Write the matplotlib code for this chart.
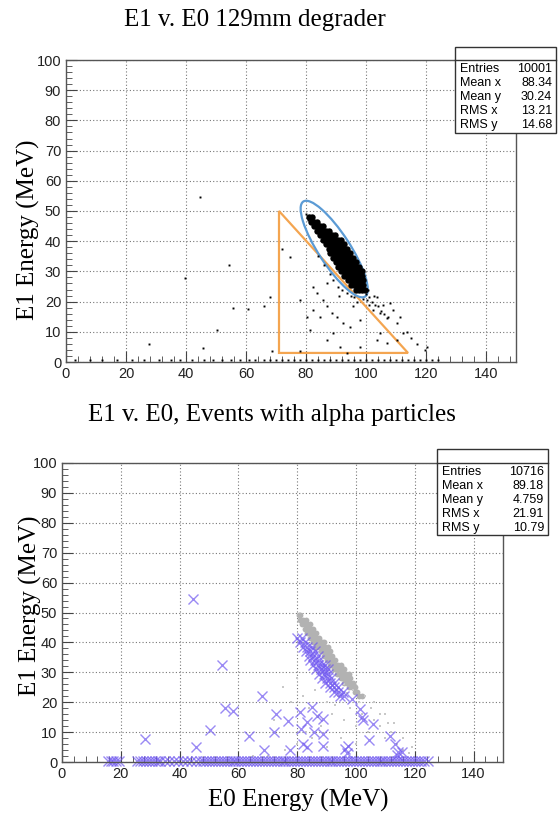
import matplotlib
matplotlib.use("Agg")
import matplotlib.pyplot as plt
from matplotlib.patches import Ellipse, Polygon, Rectangle
from matplotlib.ticker import MultipleLocator

# ---------------- data ----------------
# top panel: dense band, one entry per E1 row -> E0 values
top_band = [
    (48.0, [81, 82]),
    (46.5, [81.5, 82.5, 83.5]),
    (45.0, [82.5, 83.5, 84.5, 85.5]),
    (43.5, [83.5, 84.5, 85.5, 86.5, 87.5]),
    (42.0, [84.5, 85.5, 86.5, 87.5, 88.5, 89.5]),
    (40.5, [85.5, 86.5, 87.5, 88.5, 89.5, 90.5, 91.5]),
    (39.0, [86.5, 87.5, 88.5, 89.5, 90.5, 91.5, 92.5]),
    (37.5, [87.5, 88.5, 89.5, 90.5, 91.5, 92.5, 93.5]),
    (36.0, [88, 89, 90, 91, 92, 93, 94, 94.5]),
    (34.5, [89, 90, 91, 92, 93, 94, 95, 95.5]),
    (33.0, [90, 91, 92, 93, 94, 95, 96, 96.5]),
    (31.5, [90.5, 91.5, 92.5, 93.5, 94.5, 95.5, 96.5, 97.5]),
    (30.0, [91.5, 92.5, 93.5, 94.5, 95.5, 96.5, 97.5, 98.5]),
    (28.5, [92.5, 93.5, 94.5, 95.5, 96.5, 97.5, 98.5]),
    (27.0, [94, 95, 96, 97, 98, 99]),
    (25.5, [95, 96, 97, 98, 99]),
    (24.0, [96.5, 97.5, 98.5, 99.5]),
]
top_scatter_x = [44.5, 54.4, 39.7, 55.5, 60.5, 66, 68, 27.5, 50.2, 45.8, 68.6, 71.9, 74.7, 78,
                 82.4, 83.6, 85.8, 86.9, 88.6, 90.2, 82.4, 84.7, 89.1, 92.4, 94.7, 98, 102.4,
                 104.7, 107.4, 110.2, 112.4, 113.6, 120.2, 119.7, 91.3, 93.6, 98, 103.6, 106.9,
                 78, 80.2, 81.3, 86.9, 93.6, 95.8, 100.2, 103.6, 108, 109.1, 111.3, 104.7, 110.2,
                 101, 102, 103, 104, 105, 106, 107, 100, 99, 101, 80, 80.5, 89, 90.5, 87, 91,
                 115, 117, 84, 86, 88, 95, 97, 100.5, 102.5, 105.5, 96, 92]
top_scatter_y = [54.6, 32.2, 27.8, 18.0, 17.4, 18.5, 21.5, 5.8, 10.6, 4.5, 3.5, 37.5, 34.8, 3.5,
                 24.9, 22.8, 20.5, 18.4, 16.1, 15.0, 17.2, 15.0, 9.5, 12.8, 11.7, 13.9, 17.2,
                 16.1, 15.0, 12.8, 9.5, 10.0, 5.1, 4.0, 5.1, 2.9, 5.1, 7.3, 6.2,
                 20.5, 15.0, 10.6, 7.3, 22.8, 18.4, 20.5, 21.6, 19.4, 17.2, 15.0, 9.5, 7.3,
                 21.5, 20, 19, 18.5, 17, 16, 14.5, 22.5, 21, 19, 49, 47, 27, 25, 26, 22,
                 8, 6, 35, 32, 29, 22, 20, 24, 22, 19, 21.5, 24]
top_floor_x = [3, 8, 12, 17, 22, 26, 31, 35, 38, 42, 46, 49, 52, 55, 58, 61, 63, 66, 68, 70, 72,
               74, 76, 78, 80, 82, 84, 86, 88, 90, 92, 94, 96, 98, 100, 102, 104, 106, 108, 110,
               112, 114, 116, 118, 120, 122, 124]
cut_triangle = [(71, 50), (71, 3), (114, 3)]
top_stats = [("Entries", "10001"), ("Mean x", "88.34"), ("Mean y", "30.24"),
             ("RMS x", "13.21"), ("RMS y", "14.68")]

# bottom panel: gray band (all events), purple crosses (alpha events)
gray_band = [
    (49.0, [80.5, 81]), (47.5, [81, 82, 83]), (46.0, [81.5, 82.5, 83.5, 84.5]),
    (44.5, [82.5, 83.5, 84.5, 85.5]), (43.0, [83.5, 84.5, 85.5, 86.5]),
    (41.5, [84.5, 85.5, 86.5, 87.5]), (40.0, [85.5, 86.5, 87.5, 88.5, 89]),
    (38.5, [86.5, 87.5, 88.5, 89.5, 90.5]), (37.0, [88, 89, 90, 91]),
    (35.5, [89, 90, 91, 92]), (34.0, [90, 91, 92, 93]), (32.5, [91, 92, 93, 94, 95]),
    (31.0, [92.5, 93.5, 94.5, 95.5, 96]), (29.5, [93.5, 94.5, 95.5, 96.5, 97.5]),
    (28.0, [95, 96, 97, 98]), (26.5, [96, 97, 98, 99]), (25.0, [97.5, 98.5, 99.5]),
    (23.5, [99.5, 100.5]), (22.0, [101, 102]),
]
gray_scatter_x = [72, 75, 78, 80, 82, 84, 86, 88, 90, 92, 94, 96, 98, 100, 102, 104, 106, 108,
                  110, 112, 114, 116, 118, 100, 95, 90, 85, 80, 76, 70, 65, 60, 106, 103, 99, 96,
                  93, 87, 83, 110, 113, 116, 119, 105, 108, 111, 101, 97]
gray_scatter_y = [14, 25, 20, 28, 22, 18, 24, 12, 20, 16, 22, 14, 18, 12, 16, 10, 14, 12,
                  8, 10, 6, 4, 3, 6, 8, 5, 8, 6, 4, 2, 2, 1.5, 20, 22, 24, 26,
                  19, 15, 10, 16, 13, 8, 5, 18, 16, 13, 20, 23]
alpha_band = [
    (41.5, [80, 81.5]), (40.0, [81, 82.5]), (38.5, [82, 83.5, 85]), (37.0, [83, 84.5, 86]),
    (35.5, [84, 85.5, 87]), (34.0, [84.5, 86, 87.5]), (32.5, [85.5, 87, 88.5, 89.5]),
    (31.0, [86.5, 88, 89.5, 90.5]), (29.5, [87.5, 89, 90.5]), (28.0, [88.5, 90, 91.5]),
    (26.5, [89.5, 91, 92.5]), (25.0, [91, 92.5, 94]), (23.5, [92.5, 94, 95.5]),
    (22.0, [94.5, 96]),
]
alpha_x = [44.5, 54.5, 28.2, 50.5, 45.6, 55.4, 58.2, 63.7, 68.0, 68.6, 72.8, 72.0, 77.0, 77.6,
           80.8, 81.4, 81.9, 83.5, 83.5, 85.0, 85.6, 86.7, 88.9, 88.9, 88.9, 96.3, 96.9, 97.4,
           101.4, 102.0, 102.5, 105.9, 104.4, 111.5, 113.2, 114.4, 113.8, 115.5, 98.5]
alpha_y = [54.6, 32.3, 7.8, 10.8, 5.0, 18.2, 17.1, 8.8, 22.1, 3.9, 16.0, 10.0, 13.7, 3.9,
           16.7, 11.2, 6.1, 5.0, 13.4, 18.4, 10.0, 15.3, 9.5, 5.3, 14.3, 4.5, 3.0, 5.3,
           17.8, 15.0, 14.0, 12.8, 7.5, 8.6, 6.1, 3.3, 2.5, 3.2, 21.2]
alpha_floor_x = [15.5, 16.5, 17.5, 18.5, 19.5, 25.5, 26.5, 27.5, 28.5, 29.5, 30.5, 31.5, 32.5,
                 33.5, 35, 36.5, 38, 39.5, 41, 42.5, 44, 45.5, 47, 48, 49, 50, 51, 52, 53, 54,
                 55, 56, 57, 58, 59, 60, 61, 62, 63, 64, 65, 66, 67, 68, 69, 70, 71, 72, 73, 74,
                 75, 76, 77, 78, 79, 80, 81, 82, 83, 84, 85, 86, 87, 88, 89, 90, 91, 92, 93, 94,
                 95, 96, 97, 98, 99, 100, 101, 102, 103, 104, 105, 106, 107, 108, 109, 110, 111,
                 112, 113, 114, 115, 116, 117, 118, 119, 120, 121, 122, 123, 124.5]
bottom_stats = [("Entries", "10716"), ("Mean x", "89.18"), ("Mean y", "4.759"),
                ("RMS x", "21.91"), ("RMS y", "10.79")]

W, H = 560, 818


def flat(rows):
    xs, ys = [], []
    for y, row in rows:
        for x in row:
            xs.append(x)
            ys.append(y)
    return xs, ys


def px_axes(fig, x0, y0, x1, y1):
    # pixel box (top-left origin) -> axes
    return fig.add_axes([x0 / W, 1 - y1 / H, (x1 - x0) / W, (y1 - y0) / H])


def style(ax):
    ax.set_xlim(0, 150)
    ax.set_ylim(0, 100)
    ax.xaxis.set_major_locator(MultipleLocator(20))
    ax.xaxis.set_minor_locator(MultipleLocator(4))
    ax.yaxis.set_major_locator(MultipleLocator(10))
    ax.yaxis.set_minor_locator(MultipleLocator(2))
    ax.tick_params(which='both', direction='in', top=False, right=False,
                   labelsize=10.5, colors='#444444', labelcolor='#222222')
    ax.tick_params(which='major', length=8, width=0.8)
    ax.tick_params(which='minor', length=4, width=0.6)
    for lab in ax.get_xticklabels() + ax.get_yticklabels():
        lab.set_family('Liberation Sans')
    for s in ax.spines.values():
        s.set_color('#555555')
        s.set_linewidth(1.0)
    ax.grid(True, which='major', linestyle=(0, (1, 2)), color='#777777', linewidth=0.8)
    ax.set_axisbelow(True)


def stats_box(fig, x0, y0, x1, y1, head, rows, step):
    fig.patches.append(Rectangle((x0 / W, 1 - y1 / H), (x1 - x0) / W, (y1 - y0) / H,
                                 transform=fig.transFigure, facecolor='white',
                                 edgecolor='#333333', linewidth=1.0, zorder=5))
    fig.lines.append(plt.Line2D([x0 / W, x1 / W], [1 - head / H, 1 - head / H],
                                transform=fig.transFigure, color='#333333', lw=1.0, zorder=6))
    for i, (k, v) in enumerate(rows):
        yy = 1 - (head + 9 + i * step) / H
        fig.text((x0 + 5) / W, yy, k, ha='left', va='center', size=9,
                 family='Liberation Sans', zorder=7)
        fig.text((x1 - 4) / W, yy, v, ha='right', va='center', size=9,
                 family='Liberation Sans', zorder=7)


fig = plt.figure(figsize=(W / 100, H / 100), dpi=100)
serif = 'Liberation Serif'

# ---------------- top panel ----------------
ax1 = px_axes(fig, 66, 60, 516, 362)
style(ax1)
bx, by = flat(top_band)
ax1.plot(bx, by, 'o', color='black', ms=4.6, mew=0)
ax1.plot(top_scatter_x, top_scatter_y, 's', color='black', ms=1.4, mew=0)
ax1.plot(top_floor_x, [0.5] * len(top_floor_x), 's', color='black', ms=1.4, mew=0)
ax1.add_patch(Polygon(cut_triangle, closed=True, fill=False, edgecolor='#f4a550', lw=1.6))
ax1.add_patch(Ellipse((89.4, 37.4), 37.6, 10.5, angle=-56.8, fill=False,
                      edgecolor='#5b9bd5', lw=1.6))
fig.text(255 / W, 1 - 20 / H, 'E1 v. E0 129mm degrader', ha='center', va='center',
         family=serif, size=18)
fig.text(28 / W, 1 - 230 / H, 'E1 Energy (MeV)', ha='center', va='center',
         rotation=90, family=serif, size=18)
stats_box(fig, 455, 47, 556, 133, 60, top_stats, 14)

# ---------------- bottom panel ----------------
ax2 = px_axes(fig, 62, 463, 503, 762)
style(ax2)
gx, gy = flat(gray_band)
ax2.plot(gx, gy, 'o', color='#b2b2b2', ms=4.2, mew=0)
ax2.plot(gray_scatter_x, gray_scatter_y, 's', color='#c8c8c8', ms=1.8, mew=0)
purple = '#7058f0'
abx, aby = flat(alpha_band)
ax2.plot(abx, aby, 'x', color=purple, ms=7, mew=1.0, alpha=0.7)
ax2.plot(alpha_x, alpha_y, 'x', color=purple, ms=7, mew=1.0, alpha=0.7)
ax2.plot(alpha_floor_x, [0.5] * len(alpha_floor_x), 'x', color=purple, ms=7, mew=1.0,
         alpha=0.7, clip_on=False)
fig.text(272 / W, 1 - 415 / H, 'E1 v. E0, Events with alpha particles', ha='center',
         va='center', family=serif, size=18)
fig.text(30 / W, 1 - 606 / H, 'E1 Energy (MeV)', ha='center', va='center',
         rotation=90, family=serif, size=18)
fig.text(298 / W, 1 - 800 / H, 'E0 Energy (MeV)', ha='center', va='center',
         family=serif, size=18)
stats_box(fig, 437, 449, 548, 535, 463, bottom_stats, 14)

fig.savefig('out.png', dpi=100)
